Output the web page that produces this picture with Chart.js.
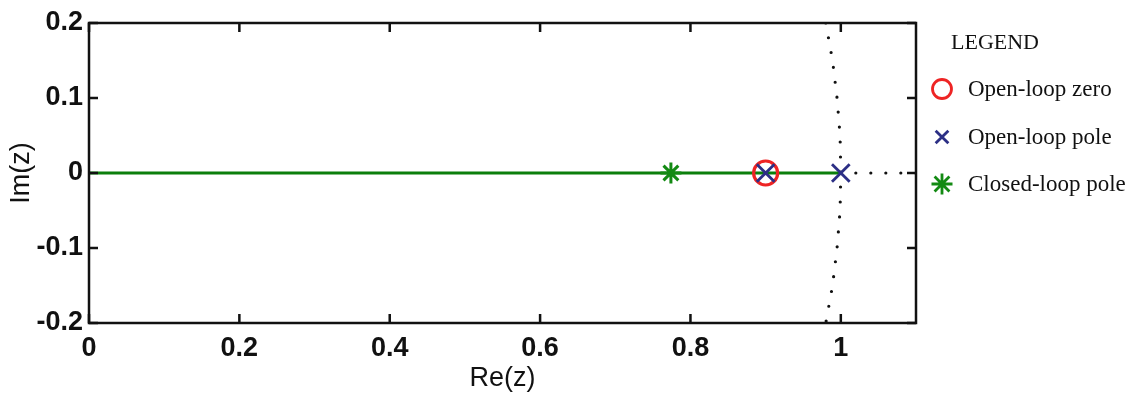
<!DOCTYPE html>
<html><head><meta charset="utf-8">
<script src="https://cdn.jsdelivr.net/npm/chart.js@4/dist/chart.umd.min.js"></script>
<style>html,body{margin:0;padding:0;background:#fff;} #wrap{width:1136px;height:399px;}</style>
</head><body><div id="wrap"><canvas id="c" width="1136" height="399"></canvas></div>
<script>
// ---- data ----
const openLoopZerosRe = [0.9];
const openLoopZerosIm = [0];
const openLoopPolesRe = [0.9, 1.0];
const openLoopPolesIm = [0, 0];
const closedLoopPolesRe = [0.774];
const closedLoopPolesIm = [0];
const rootLocusRe = [0, 1.0];
const rootLocusIm = [0, 0];
const unitCircleRe = [0.980, 0.989, 0.995, 0.999, 1.000, 0.999, 0.995, 0.989, 0.980];
const unitCircleIm = [0.20, 0.15, 0.10, 0.05, 0, -0.05, -0.10, -0.15, -0.20];
const realAxisRe = [1.0, 1.1];
const realAxisIm = [0, 0];
const xTickValues = [0, 0.2, 0.4, 0.6, 0.8, 1];
const xTickLabels = ['0', '0.2', '0.4', '0.6', '0.8', '1'];
const yTickValues = [-0.2, -0.1, 0, 0.1, 0.2];
const yTickLabels = ['-0.2', '-0.1', '0', '0.1', '0.2'];
const legendTitle = 'LEGEND';
const legendLabels = ['Open-loop zero', 'Open-loop pole', 'Closed-loop pole'];

const pts = (re, im) => re.map((x, i) => ({x: x, y: im[i]}));
const lbl = (vals, labels) => (v) => { const i = vals.findIndex(t => Math.abs(t - v) < 1e-9); return i >= 0 ? labels[i] : ''; };

const RED = '#ee2424', NAVY = '#2c2f85', GREEN = '#138a13', LOCUS = '#0b7f0b', DOT = '#111';

const tickFont = {family: 'Liberation Sans', size: 27, weight: 'bold'};

const framePlugin = {
  id: 'frame',
  afterDatasetsDraw(chart) {
    const {ctx, chartArea: a, scales: {x, y}} = chart;
    ctx.save();
    ctx.strokeStyle = '#111';
    ctx.lineWidth = 2.5;
    ctx.lineCap = 'butt';
    ctx.strokeRect(a.left, a.top, a.right - a.left, a.bottom - a.top);
    const L = 9;
    ctx.beginPath();
    xTickValues.forEach(v => {
      const px = x.getPixelForValue(v);
      ctx.moveTo(px, a.bottom); ctx.lineTo(px, a.bottom - L);
      ctx.moveTo(px, a.top); ctx.lineTo(px, a.top + L);
    });
    yTickValues.forEach(v => {
      const py = y.getPixelForValue(v);
      ctx.moveTo(a.left, py); ctx.lineTo(a.left + L, py);
      ctx.moveTo(a.right, py); ctx.lineTo(a.right - L, py);
    });
    ctx.stroke();
    ctx.restore();
  }
};

function drawMarker(ctx, style, r, x, y) {
  ctx.beginPath();
  if (style === 'circle') {
    ctx.arc(x, y, r, 0, Math.PI * 2);
  } else if (style === 'crossRot') {
    const d = r * Math.SQRT1_2;
    ctx.moveTo(x - d, y - d); ctx.lineTo(x + d, y + d);
    ctx.moveTo(x - d, y + d); ctx.lineTo(x + d, y - d);
  } else if (style === 'star') {
    const d = r * Math.SQRT1_2;
    ctx.moveTo(x - r, y); ctx.lineTo(x + r, y);
    ctx.moveTo(x, y - r); ctx.lineTo(x, y + r);
    ctx.moveTo(x - d, y - d); ctx.lineTo(x + d, y + d);
    ctx.moveTo(x - d, y + d); ctx.lineTo(x + d, y - d);
  }
  ctx.stroke();
}

const legendPlugin = {
  id: 'sideLegend',
  afterDraw(chart) {
    const ctx = chart.ctx;
    ctx.save();
    ctx.fillStyle = '#111';
    ctx.font = '22px "Liberation Serif"';
    ctx.textBaseline = 'middle';
    ctx.textAlign = 'left';
    ctx.fillText(legendTitle, 951, 43);
    ctx.font = '23px "Liberation Serif"';
    const items = [
      {ds: chart.data.datasets[1], r: 9.5, y: 89},
      {ds: chart.data.datasets[0], r: 9, y: 137},
      {ds: chart.data.datasets[2], r: 10.5, y: 184}
    ];
    items.forEach((it, i) => {
      ctx.strokeStyle = it.ds.borderColor;
      ctx.lineWidth = 2.8;
      drawMarker(ctx, it.ds.pointStyle, it.r, 942, it.y);
      ctx.fillStyle = '#111';
      ctx.fillText(legendLabels[i], 968, it.y + 1);
    });
    ctx.restore();
  }
};

new Chart(document.getElementById('c'), {
  type: 'scatter',
  data: {
    datasets: [
      {label: legendLabels[1], data: pts(openLoopPolesRe, openLoopPolesIm), pointStyle: 'crossRot', pointRadius: 12.5,
       borderColor: NAVY, backgroundColor: 'rgba(0,0,0,0)', pointBorderWidth: 2.8, showLine: false},
      {label: legendLabels[0], data: pts(openLoopZerosRe, openLoopZerosIm), pointStyle: 'circle', pointRadius: 12,
       borderColor: RED, backgroundColor: 'rgba(0,0,0,0)', pointBorderWidth: 3.2, showLine: false},
      {label: legendLabels[2], data: pts(closedLoopPolesRe, closedLoopPolesIm), pointStyle: 'star', pointRadius: 10.5,
       borderColor: GREEN, backgroundColor: 'rgba(0,0,0,0)', pointBorderWidth: 3, showLine: false},
      {label: 'Root locus', data: pts(rootLocusRe, rootLocusIm), showLine: true, pointRadius: 0,
       borderColor: LOCUS, borderWidth: 3},
      {label: 'Unit circle', data: pts(unitCircleRe, unitCircleIm), showLine: true, pointRadius: 0,
       borderColor: DOT, borderWidth: 3.2, borderDash: [0, 15], borderCapStyle: 'round'},
      {label: 'Real axis', data: pts(realAxisRe, realAxisIm), showLine: true, pointRadius: 0,
       borderColor: DOT, borderWidth: 3.2, borderDash: [0, 15], borderDashOffset: 0, borderCapStyle: 'round'}
    ]
  },
  options: {
    responsive: false,
    animation: false,
    devicePixelRatio: 1,
    layout: {padding: {top: 23, right: 220, bottom: 0, left: 0}},
    plugins: {legend: {display: false}, tooltip: {enabled: false}},
    scales: {
      x: {
        type: 'linear', position: 'bottom', min: 0, max: 1.1,
        grid: {display: false, drawTicks: false}, border: {display: false},
        afterBuildTicks: s => { s.ticks = xTickValues.map(v => ({value: v})); },
        ticks: {font: tickFont, color: '#111', padding: 9, maxRotation: 0, autoSkip: false, callback: lbl(xTickValues, xTickLabels)},
        title: {display: true, text: 'Re(z)', color: '#111', padding: 0,
                font: {family: 'Liberation Sans', size: 27, lineHeight: '40px'}},
        afterFit: s => { s.height = 76; }
      },
      y: {
        type: 'linear', position: 'left', min: -0.2, max: 0.2,
        grid: {display: false, drawTicks: false}, border: {display: false},
        afterBuildTicks: s => { s.ticks = yTickValues.map(v => ({value: v})); },
        ticks: {font: tickFont, color: '#111', padding: 6, autoSkip: false, callback: lbl(yTickValues, yTickLabels)},
        title: {display: true, text: 'Im(z)', color: '#111', padding: 0,
                font: {family: 'Liberation Sans', size: 27, lineHeight: '44px'}},
        afterFit: s => { s.width = 89; }
      }
    }
  },
  plugins: [framePlugin, legendPlugin]
});
</script>
</body></html>
